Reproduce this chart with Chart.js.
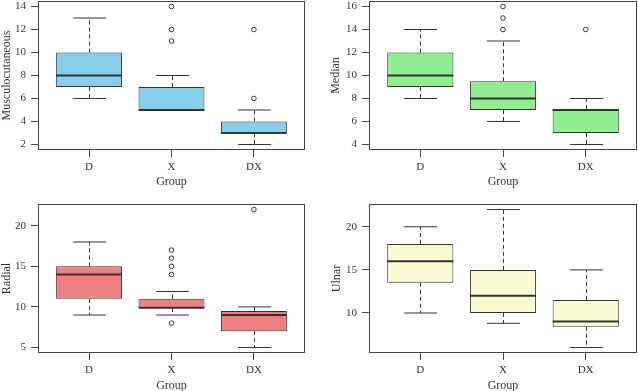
<!DOCTYPE html>
<html lang="en">
<head>
<meta charset="UTF-8">
<script src="https://cdn.jsdelivr.net/npm/chart.js"></script>
<title>Nerve measurements by group</title>
<style>
  body { margin: 0; width: 638px; height: 391px; overflow: hidden; background: #fff; position: relative; }
  canvas { position: absolute; }
</style>
</head>
<body>
<canvas id="musc" width="319" height="195" style="left:0;top:0"></canvas>
<canvas id="median" width="319" height="195" style="left:319px;top:0"></canvas>
<canvas id="radial" width="319" height="200" style="left:0;top:195px"></canvas>
<canvas id="ulnar" width="319" height="200" style="left:319px;top:195px"></canvas>
<script>
const groups = ["D", "X", "DX"];

// Musculocutaneous
const muscLow = [6, 5, 2];
const muscQ1 = [7, 5, 3];
const muscMed = [8, 5, 3];
const muscQ3 = [10, 7, 4];
const muscHigh = [13, 8, 5];
const muscOut = [["X", 11], ["X", 12], ["X", 14], ["DX", 6], ["DX", 12]];
const muscTicks = [2, 4, 6, 8, 10, 12, 14];

// Median
const medLow = [8, 6, 4];
const medQ1 = [9, 7, 5];
const medMed = [10, 8, 7];
const medQ3 = [12, 9.5, 7.1];
const medHigh = [14, 13, 8];
const medOut = [["X", 14], ["X", 15], ["X", 16], ["DX", 14]];
const medTicks = [4, 6, 8, 10, 12, 14, 16];

// Radial
const radLow = [9, 9, 5];
const radQ1 = [11, 9.85, 7];
const radMed = [14, 9.9, 9];
const radQ3 = [15, 11, 9.5];
const radHigh = [18, 11.9, 10];
const radOut = [["X", 8], ["X", 14], ["X", 15], ["X", 16], ["X", 17], ["DX", 22]];
const radTicks = [5, 10, 15, 20];

// Ulnar
const ulnLow = [10, 8.8, 6];
const ulnQ1 = [13.5, 10, 8.4];
const ulnMed = [16, 12, 9];
const ulnQ3 = [18, 15, 11.5];
const ulnHigh = [20, 22, 15];
const ulnOut = [];
const ulnTicks = [10, 15, 20];

Chart.defaults.font.family = "'Liberation Serif', 'DejaVu Serif', serif";
Chart.defaults.font.size = 11;
Chart.defaults.color = '#333';

const ink = '#333';

// whiskers, caps and median lines, placed from the bar elements and y scale
function boxPlugin(low, med, high) {
  return {
    id: 'whiskers',
    afterDatasetsDraw(chart) {
      const ctx = chart.ctx, ys = chart.scales.y;
      const bars = chart.getDatasetMeta(0).data;
      ctx.save();
      ctx.strokeStyle = ink;
      bars.forEach((bar, i) => {
        const x = Math.round(bar.x) + 0.5, hw = bar.width / 2;
        const top = Math.min(bar.y, bar.base), bot = Math.max(bar.y, bar.base);
        const yLow = ys.getPixelForValue(low[i]), yHigh = ys.getPixelForValue(high[i]);
        ctx.lineWidth = 1;
        ctx.setLineDash([4, 3]);
        ctx.beginPath();
        ctx.moveTo(x, bot); ctx.lineTo(x, yLow);
        ctx.moveTo(x, top); ctx.lineTo(x, yHigh);
        ctx.stroke();
        ctx.setLineDash([]);
        ctx.beginPath();
        ctx.moveTo(x - hw / 2, yLow); ctx.lineTo(x + hw / 2, yLow);
        ctx.moveTo(x - hw / 2, yHigh); ctx.lineTo(x + hw / 2, yHigh);
        ctx.stroke();
        const ym = ys.getPixelForValue(med[i]);
        ctx.lineWidth = 2;
        ctx.beginPath();
        ctx.moveTo(bar.x - hw, ym); ctx.lineTo(bar.x + hw, ym);
        ctx.stroke();
      });
      ctx.restore();
    }
  };
}

const framePlugin = {
  id: 'frame',
  afterDraw(chart) {
    const a = chart.chartArea, ctx = chart.ctx;
    ctx.save();
    ctx.strokeStyle = '#444';
    ctx.lineWidth = 1;
    const l = Math.round(a.left) + 0.5, t = Math.round(a.top) + 0.5;
    ctx.strokeRect(l, t, Math.round(a.right) - Math.round(a.left) - 1, Math.round(a.bottom) - Math.round(a.top) - 1);
    ctx.restore();
  }
};

function boxChart(id, label, color, low, q1, med, q3, high, out, ticks, area) {
  const all = low.concat(high, out.map(o => o[1]));
  const lo = Math.min(...all), hi = Math.max(...all);
  const ext = (hi - lo) * 0.04;
  const cv = document.getElementById(id);
  new Chart(cv, {
    type: 'bar',
    data: {
      datasets: [{
        type: 'bar',
        data: groups.map((g, i) => ({ x: i + 1, y: [q1[i], q3[i]] })),
        backgroundColor: color,
        borderColor: ink,
        borderWidth: 1,
        borderSkipped: false,
        barPercentage: 0.8,
        categoryPercentage: 1
      }, {
        type: 'scatter',
        data: out.map(o => ({ x: groups.indexOf(o[0]) + 1, y: o[1] })),
        pointRadius: 2.3,
        pointBorderWidth: 1,
        pointBorderColor: ink,
        pointBackgroundColor: 'rgba(0,0,0,0)'
      }]
    },
    options: {
      responsive: false,
      animation: false,
      layout: { autoPadding: false, padding: { top: area.top, right: cv.width - area.right, left: 0, bottom: 0 } },
      plugins: { legend: { display: false }, tooltip: { enabled: false } },
      scales: {
        x: {
          type: 'linear', min: 0.38, max: 3.62, offset: false,
          afterBuildTicks: s => { s.ticks = groups.map((g, i) => ({ value: i + 1 })); },
          afterFit: s => { s.height = cv.height - area.bottom; s.paddingLeft = 0; s.paddingRight = 0; },
          ticks: { callback: v => groups[v - 1], padding: 4, maxRotation: 0, autoSkip: false },
          grid: { drawOnChartArea: false, tickLength: 7, color: '#444', offset: false },
          border: { display: false },
          title: { display: true, text: 'Group', font: { size: 12 }, padding: { top: 0, bottom: area.gx } }
        },
        y: {
          min: lo - ext, max: hi + ext,
          afterBuildTicks: s => { s.ticks = ticks.map(v => ({ value: v })); },
          afterFit: s => { s.width = area.left; s.paddingTop = 0; s.paddingBottom = 0; },
          ticks: { padding: 5 },
          grid: { drawOnChartArea: false, tickLength: 7, color: '#444' },
          border: { display: false },
          title: { display: true, text: label, font: { size: 12 }, padding: { top: area.gy, bottom: 0 } }
        }
      }
    },
    plugins: [boxPlugin(low, med, high), framePlugin]
  });
}

boxChart('musc', 'Musculocutaneous', '#87CEEB', muscLow, muscQ1, muscMed, muscQ3, muscHigh, muscOut, muscTicks,
  { left: 38, right: 305, top: 1, bottom: 150, gx: 6, gy: 0 });
boxChart('median', 'Median', '#90EE90', medLow, medQ1, medMed, medQ3, medHigh, medOut, medTicks,
  { left: 50, right: 318, top: 1, bottom: 150, gx: 6, gy: 10 });
boxChart('radial', 'Radial', '#F08080', radLow, radQ1, radMed, radQ3, radHigh, radOut, radTicks,
  { left: 38, right: 305, top: 9, bottom: 158, gx: 2, gy: 0 });
boxChart('ulnar', 'Ulnar', '#FAFAD2', ulnLow, ulnQ1, ulnMed, ulnQ3, ulnHigh, ulnOut, ulnTicks,
  { left: 50, right: 318, top: 9, bottom: 158, gx: 2, gy: 11 });
</script>
</body>
</html>
